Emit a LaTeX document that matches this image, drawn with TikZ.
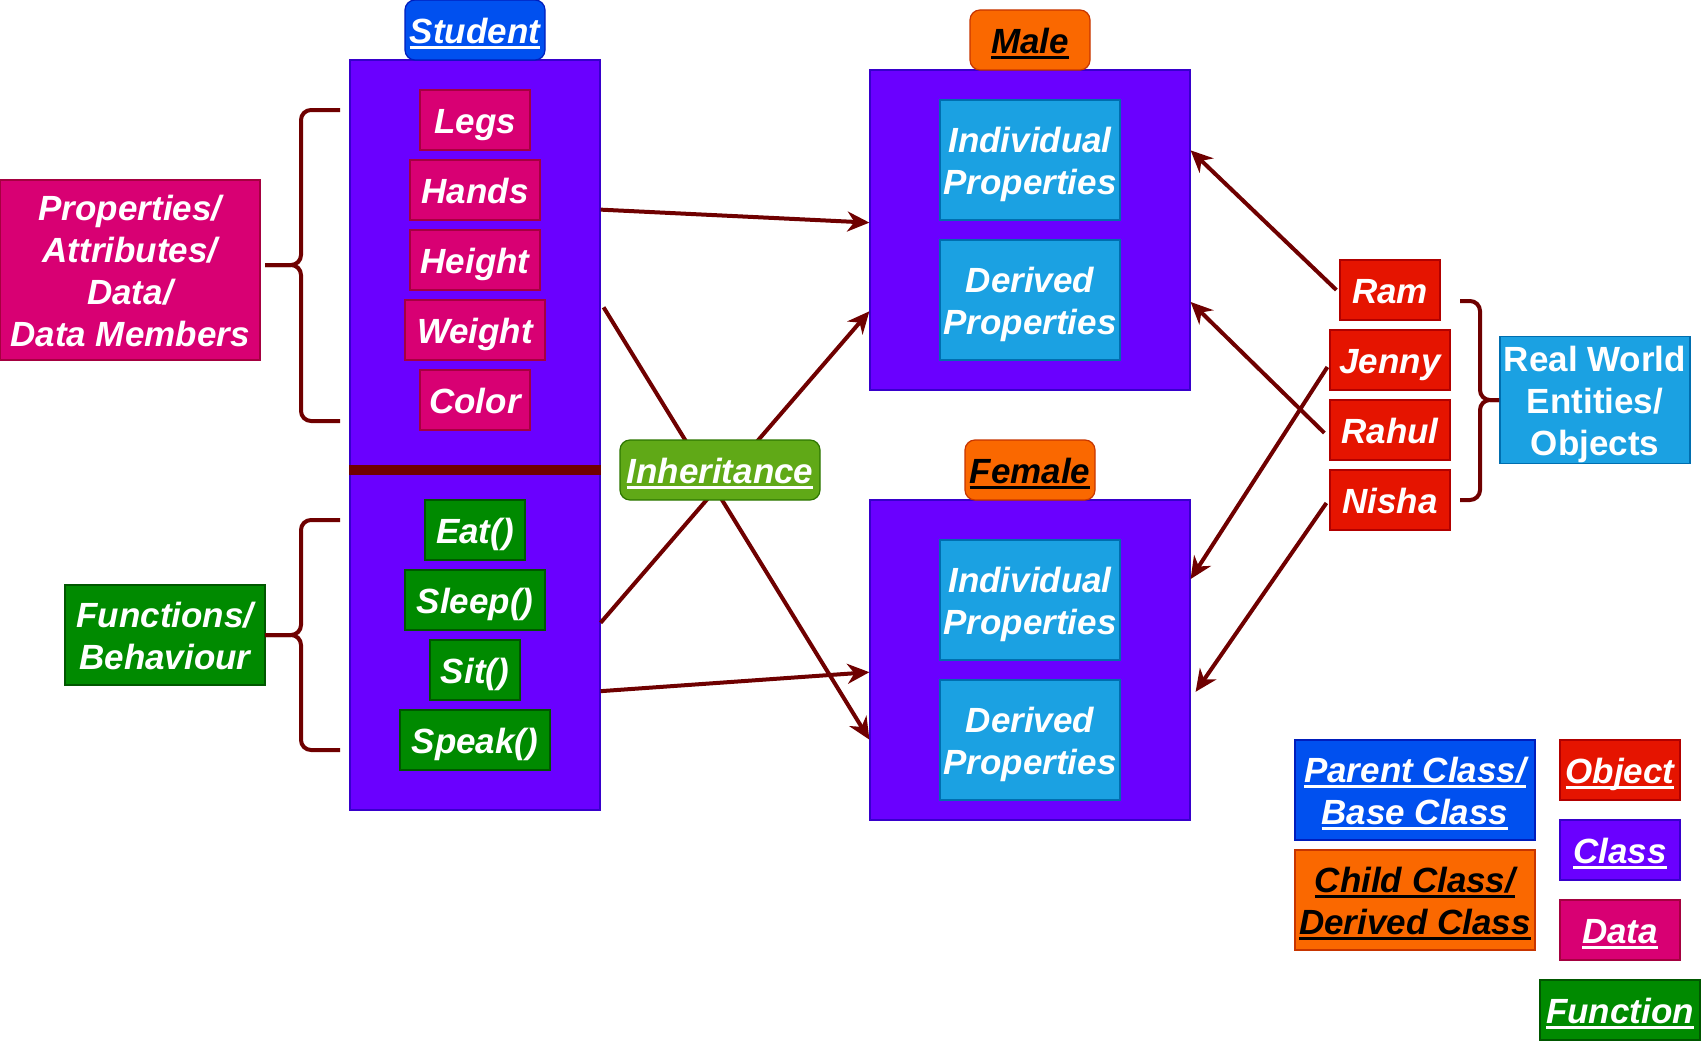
\documentclass[tikz,border=0pt]{standalone}
\usepackage{fontspec}
\setmainfont{Liberation Sans}
\usetikzlibrary{calc}
\usetikzlibrary{arrows.meta}

\definecolor{bluefill}{HTML}{0050EF}
\definecolor{blueline}{HTML}{001DBC}
\definecolor{clsfill}{HTML}{6A00FF}
\definecolor{clsline}{HTML}{3700CC}
\definecolor{datfill}{HTML}{D80073}
\definecolor{datline}{HTML}{A50040}
\definecolor{funfill}{HTML}{008A00}
\definecolor{funline}{HTML}{005700}
\definecolor{orfill}{HTML}{FA6800}
\definecolor{orline}{HTML}{C73500}
\definecolor{cyfill}{HTML}{1BA1E2}
\definecolor{cyline}{HTML}{006EAF}
\definecolor{objfill}{HTML}{E51400}
\definecolor{objline}{HTML}{B20000}
\definecolor{limefill}{HTML}{60A917}
\definecolor{limeline}{HTML}{2D7600}
\definecolor{linkred}{HTML}{6F0000}

\newsavebox\ulbox
\newcommand\ultext[1]{\sbox\ulbox{#1}\rlap{\rule[-5pt]{\wd\ulbox}{2.5pt}}\usebox\ulbox}
\newcommand\hstrut{\rule{0pt}{35pt}}

\begin{document}
\begin{tikzpicture}[x=1pt, y=-1pt,
    box/.style={rectangle, draw, line width=1.2pt, inner sep=0pt, text=white, align=center,
        font=\fontsize{35}{42}\selectfont\bfseries\itshape,
        execute at begin node={\rule{0pt}{35pt}},
        execute at end node={\rule[-7.5pt]{0pt}{7.5pt}}},
    clsbox/.style={box, draw=clsline, fill=clsfill},
    datbox/.style={box, draw=datline, fill=datfill, minimum height=60},
    funbox/.style={box, draw=funline, fill=funfill, minimum height=60},
    objbox/.style={box, draw=objline, fill=objfill, minimum height=60},
    propbox/.style={box, draw=cyline, fill=cyfill, minimum width=180, minimum height=120},
    parentlbl/.style={box, draw=blueline, fill=bluefill, rounded corners=10pt},
    childlbl/.style={box, draw=orline, fill=orfill, text=black, rounded corners=10pt},
    link/.style={draw=linkred, line width=4pt, -{Stealth[length=22pt, width=20pt, inset=7pt]}},
    curly/.style={draw=linkred, line width=4pt, rounded corners=10pt}]
    \useasboundingbox (0,0) rectangle (1701,1041);

    % student class
    \node[clsbox, minimum width=250, minimum height=750] (stud) at (475,435) {};
    \node[parentlbl, minimum width=140, minimum height=60] (studlbl) at (475,30) {\ultext{Student}};
    \draw[linkred, line width=10pt] (stud.west |- 0,470) -- (stud.east |- 0,470);
    \foreach \key/\w/\y in {Legs/110/120, Hands/130/190, Height/130/260, Weight/140/330, Color/110/400}
    {
        \node[datbox, minimum width=\w] (\key) at (475,\y) {\key};
    }
    \foreach \key/\txt/\w/\y in {eat/Eat()/100/530, sleep/Sleep()/140/600, sit/Sit()/90/670, speak/Speak()/150/740}
    {
        \node[funbox, minimum width=\w] (\key) at (475,\y) {\txt};
    }

    % left labels
    \node[datbox, minimum width=260, minimum height=180] (props) at (130,270) {\hstrut Properties/\\Attributes/\\Data/\\Data Members};
    \node[funbox, minimum width=200, minimum height=100] (funcs) at (165,635) {\hstrut Functions/\\Behaviour};
    \draw[curly] (340,110) -| (301,265) -- (265,265);
    \draw[curly] (340,421) -| (301,265) -- (265,265);
    \draw[curly] (340,520) -| (301,635) -- (265,635);
    \draw[curly] (340,750) -| (301,635) -- (265,635);

    % child classes
    \node[clsbox, minimum width=320, minimum height=320] (male) at (1030,230) {};
    \node[childlbl, minimum width=120, minimum height=60] (malelbl) at (1030,40) {\ultext{Male}};
    \node[propbox] (mind) at (1030,160) {\hstrut Individual\\Properties};
    \node[propbox] (mder) at (1030,300) {\hstrut Derived\\Properties};
    \node[clsbox, minimum width=320, minimum height=320] (female) at (1030,660) {};
    \node[childlbl, minimum width=130, minimum height=60] (femalelbl) at (1030,470) {\ultext{Female}};
    \node[propbox] (find) at (1030,600) {\hstrut Individual\\Properties};
    \node[propbox] (fder) at (1030,740) {\hstrut Derived\\Properties};

    % objects
    \foreach \key/\w/\y in {Ram/100/290, Jenny/120/360, Rahul/120/430, Nisha/120/500}
    {
        \node[objbox, minimum width=\w] (\key) at (1390,\y) {\key};
    }
    \node[box, draw=cyline, fill=cyfill, minimum width=190, minimum height=120, font=\fontsize{35}{42}\selectfont\bfseries\upshape] (world) at (1595,400) {\hstrut Real World\\Entities/\\Objects};
    \draw[curly] (1460,301) -| (1480,400) -- (1499,400);
    \draw[curly] (1460,500) -| (1480,400) -- (1499,400);

    % inheritance links
    \draw[link] ($(stud.north east)!0.2!(stud.south east)$) -- ($(male.north west)!0.477!(male.south west)$);
    \draw[link] ($(stud.north east)!0.33!(stud.south east)+(3,0)$) -- ($(female.north west)!0.748!(female.south west)$);
    \draw[link] ($(stud.north east)!0.75!(stud.south east)$) -- ($(male.north west)!0.753!(male.south west)$);
    \draw[link] ($(stud.north east)!0.841!(stud.south east)$) -- ($(female.north west)!0.538!(female.south west)$);
    \node[box, draw=limeline, fill=limefill, rounded corners=10pt, minimum width=200, minimum height=60] (inher) at (720,470) {\ultext{Inheritance}};

    % object links
    \draw[link] ([xshift=-3pt]Ram.west) -- ($(male.north east)!0.252!(male.south east)$);
    \draw[link] ([xshift=-5pt,yshift=-3pt]Rahul.west) -- ($(male.north east)!0.724!(male.south east)$);
    \draw[link] ([xshift=-2pt,yshift=-7pt]Jenny.west) -- ($(female.north east)!0.248!(female.south east)$);
    \draw[link] ([xshift=-3pt,yshift=-3pt]Nisha.west) -- ($(female.north east)!0.599!(female.south east)+(5,0)$);

    % legend
    \node[parentlbl, rounded corners=0pt, minimum width=240, minimum height=100] (lparent) at (1415,790) {\hstrut\ultext{Parent Class/}\\\ultext{Base Class}};
    \node[childlbl, rounded corners=0pt, minimum width=240, minimum height=100] (lchild) at (1415,900) {\hstrut\ultext{Child Class/}\\\ultext{Derived Class}};
    \node[objbox, minimum width=120] (lobj) at (1620,770) {\ultext{Object}};
    \node[clsbox, minimum width=120, minimum height=60] (lcls) at (1620,850) {\ultext{Class}};
    \node[datbox, minimum width=120] (ldat) at (1620,930) {\ultext{Data}};
    \node[funbox, minimum width=160] (lfun) at (1620,1010) {\ultext{Function}};
\end{tikzpicture}
\end{document}
